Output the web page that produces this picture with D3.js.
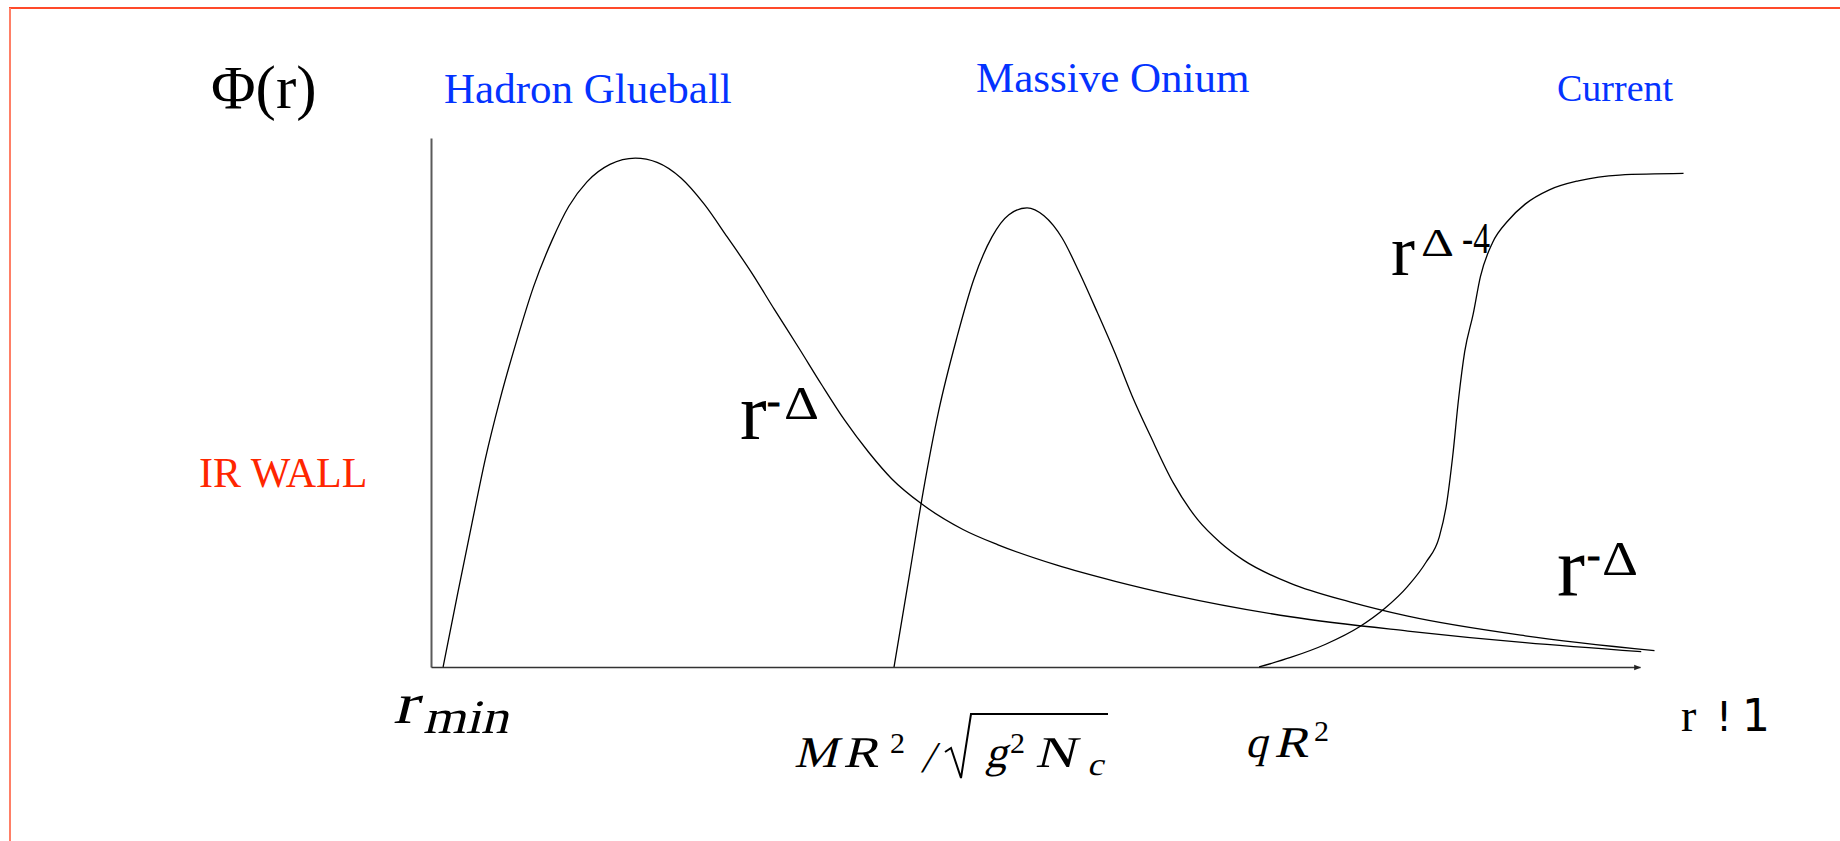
<!DOCTYPE html>
<html>
<head>
<meta charset="utf-8">
<script src="https://cdn.jsdelivr.net/npm/d3@7/dist/d3.min.js"></script>
<style>
  body { margin: 0; background: #fff; }
  svg { display: block; }
</style>
</head>
<body>
<div id="chart"></div>
<script>
// Wave functions along the radial direction.
// x runs 0..100 along the r axis, y runs 0..100 up the Φ(r) axis.
const hadronX = [1.0, 2.2, 3.4, 4.5, 5.7, 7.1, 8.5, 10.0, 11.4, 12.9, 14.8, 16.9, 18.7, 20.7, 22.6, 24.5, 26.5, 28.4, 30.4, 32.3, 34.2, 36.2, 38.1, 40.6, 44.0, 46.9, 51.7, 56.6, 61.4, 71.1, 80.8, 90.5, 100.1];
const hadronY = [0, 13.8, 27.3, 39.4, 50.5, 61.8, 72.0, 80.6, 87.1, 91.7, 95.0, 96.2, 95.4, 92.4, 87.5, 81.3, 74.6, 67.6, 60.4, 53.4, 46.7, 40.6, 35.6, 30.8, 26.0, 23.1, 19.3, 16.2, 13.6, 9.5, 6.8, 4.6, 2.9];

const oniumX = [38.3, 39.6, 40.7, 42.0, 43.5, 44.9, 46.4, 47.8, 49.3, 50.7, 52.2, 53.6, 55.1, 56.6, 58.0, 59.5, 61.4, 63.4, 65.3, 67.2, 71.1, 76.0, 80.8, 90.5, 101.2];
const oniumY = [0, 17.8, 33.0, 48.5, 62.3, 73.3, 81.3, 85.5, 86.8, 85.3, 81.1, 74.7, 67.1, 59.2, 51.2, 43.7, 34.8, 27.9, 23.5, 20.2, 15.8, 12.3, 9.6, 5.9, 3.1];

const currentX = [68.5, 71.1, 74.0, 76.8, 78.9, 80.8, 82.3, 83.4, 84.0, 84.5, 85.0, 85.5, 86.2, 86.8, 87.8, 89.1, 90.5, 92.5, 94.9, 98.3, 103.6];
const currentY = [0, 1.8, 4.3, 7.6, 11.1, 15.3, 19.8, 24.6, 30.8, 39.7, 50.8, 59.6, 66.7, 73.8, 80.2, 84.4, 87.5, 90.2, 91.9, 93.0, 93.3];

const regionLabels = ["Hadron Glueball", "Massive Onium", "Current"];

const W = 1840, H = 841;
const blue = "#0433ff", red = "#ff2600";
const serif = "'Liberation Serif', 'Times New Roman', serif";
const sans = "'DejaVu Sans', sans-serif";

const svg = d3.select("#chart").append("svg")
    .attr("width", W)
    .attr("height", H);

svg.append("rect").attr("width", W).attr("height", H).attr("fill", "#fff");

// slide frame (only top and left edges are visible)
svg.append("line").attr("x1", 9).attr("x2", W).attr("y1", 8).attr("y2", 8)
    .attr("stroke", "#ff4a2a").attr("stroke-width", 2);
svg.append("line").attr("x1", 10).attr("x2", 10).attr("y1", 8).attr("y2", H)
    .attr("stroke", "#ff7f66").attr("stroke-width", 2);

// scales
const x = d3.scaleLinear().domain([0, 100]).range([431, 1640]);
const y = d3.scaleLinear().domain([0, 100]).range([667, 138]);

// axes: no ticks, just the domain lines
svg.append("g")
    .attr("class", "y-axis")
    .attr("transform", `translate(${x(0)},0)`)
    .call(d3.axisLeft(y).tickValues([]).tickSizeOuter(0))
    .select(".domain")
    .attr("stroke", "#5a5a5a")
    .attr("stroke-width", 2);

svg.append("defs").append("marker")
    .attr("id", "arrow")
    .attr("viewBox", "0 0 10 10")
    .attr("refX", 9).attr("refY", 5)
    .attr("markerWidth", 7).attr("markerHeight", 7)
    .attr("markerUnits", "userSpaceOnUse")
    .attr("orient", "auto")
    .append("path")
    .attr("d", "M0,1L10,5L0,9Z")
    .attr("fill", "#222");

svg.append("g")
    .attr("class", "x-axis")
    .attr("transform", `translate(0,${y(0)})`)
    .call(d3.axisBottom(x).tickValues([]).tickSizeOuter(0))
    .select(".domain")
    .attr("stroke", "#333")
    .attr("stroke-width", 1.5)
    .attr("marker-end", "url(#arrow)");

// curves
const line = d3.line()
    .x(d => x(d[0]))
    .y(d => y(d[1]))
    .curve(d3.curveMonotoneX);

[[hadronX, hadronY], [oniumX, oniumY], [currentX, currentY]].forEach(([xs, ys]) => {
    svg.append("path")
        .datum(xs.map((v, i) => [v, ys[i]]))
        .attr("fill", "none")
        .attr("stroke", "#000")
        .attr("stroke-width", 1.3)
        .attr("d", line);
});

// text helper; len squeezes/stretches the run to a measured width,
// italic is done by slanting the upright serif face (math-italic look)
function put(str, px, py, size, opts = {}) {
    const t = svg.append("text")
        .attr("font-family", opts.family || serif)
        .attr("font-size", size)
        .attr("fill", opts.fill || "#000")
        .text(str);
    if (opts.italic) {
        t.attr("transform", `translate(${px},${py}) skewX(-14)`);
    } else {
        t.attr("x", px).attr("y", py);
    }
    if (opts.len) {
        t.attr("textLength", opts.len).attr("lengthAdjust", "spacingAndGlyphs");
    }
    if (opts.bold) t.attr("stroke", opts.fill || "#000").attr("stroke-width", opts.bold);
    return t;
}

// titles
put("Φ(r)", 211, 108, 61);
put(regionLabels[0], 444, 103, 43, { fill: blue });
put(regionLabels[1], 976, 92, 43, { fill: blue });
put(regionLabels[2], 1557, 101, 38, { fill: blue });
put("IR WALL", 199, 487, 42, { fill: red });

// power-law tags on the curves
put("r", 740, 439, 80);
put("-", 767, 414, 40, { bold: 1 });
put("Δ", 784, 419, 46, { len: 35 });

put("r", 1557, 595, 84);
put("-", 1587, 568, 40, { bold: 1 });
put("Δ", 1602, 575, 48, { len: 36 });

put("r", 1391, 275, 72);
put("Δ", 1421, 256, 40, { len: 33 });
put("-4", 1462, 253, 44, { len: 28 });

// scale markers under the axis
put("r", 393, 723, 58, { italic: true, len: 24 });
put("min", 423, 733, 48, { italic: true, len: 85 });

put("M", 794, 767, 44, { italic: true, len: 43 });
put("R", 843, 767, 44, { italic: true, len: 35 });
put("2", 890, 753, 30);
put("/", 921, 772, 44, { italic: true });
svg.append("path")
    .attr("d", "M945,752 L951,748 L961,778 L971,714 L1108,714")
    .attr("fill", "none")
    .attr("stroke", "#000")
    .attr("stroke-width", 2);
put("g", 985, 767, 44, { italic: true, len: 22 });
put("2", 1010, 753, 30);
put("N", 1035, 767, 44, { italic: true, len: 40 });
put("c", 1087, 775, 32, { italic: true, len: 16 });

put("q", 1245, 757, 44, { italic: true, len: 22 });
put("R", 1274, 757, 44, { italic: true, len: 34 });
put("2", 1314, 741, 30);

put("r", 1681, 731, 46);
put("!", 1716, 731, 40, { family: sans });
put("1", 1742, 731, 44, { family: sans });
</script>
</body>
</html>
